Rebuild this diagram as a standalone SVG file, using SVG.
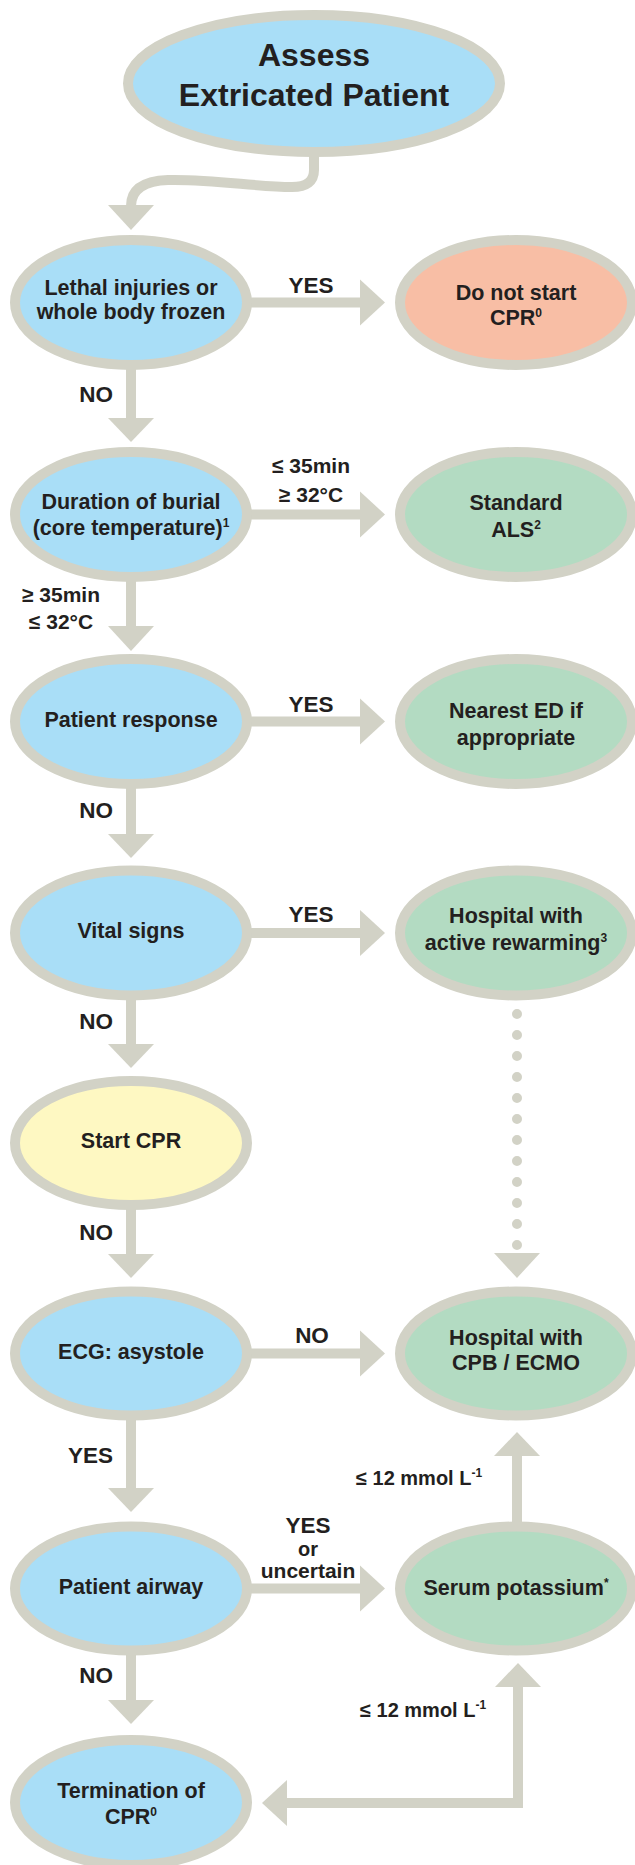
<svg xmlns="http://www.w3.org/2000/svg" width="635" height="1865" viewBox="0 0 635 1865">
<style>
.n{stroke:#D2D2C6;stroke-width:10}
.blue{fill:#A9DEF7}.red{fill:#F8BEA5}.green{fill:#B3DBC2}.yellow{fill:#FEF8C2}
text{font-family:'Liberation Sans',Arial,Helvetica,sans-serif;font-weight:bold;fill:#231F20;text-anchor:middle}
.t{font-size:21.5px}
.big{font-size:32px}
.l{font-size:22.5px}
.le{font-size:22.5px;text-anchor:end}
.s{font-size:21px}
.o{font-size:20px}
.ss{font-size:20px;text-anchor:start}
.sup{font-size:12px}
.sh{stroke:#D2D2C6;stroke-width:10;fill:none}
.hd{fill:#D2D2C6}
.dot{stroke:#D2D2C6;stroke-width:10;fill:none;stroke-linecap:round;stroke-dasharray:0 21}
</style>
<g id="connectors">
<path class="sh" d="M314,155 V170 Q314,187 292,187 C255,187 215,179 168,180 C143,181 131,190 131,206"/>
<polygon class="hd" points="108,205 154,205 131,230"/>
<path class="sh" d="M131,368 V419"/><polygon class="hd" points="108,418 154,418 131,442"/>
<path class="sh" d="M131,580 V627"/><polygon class="hd" points="108,626 154,626 131,651"/>
<path class="sh" d="M131,787 V835"/><polygon class="hd" points="108,834 154,834 131,858"/>
<path class="sh" d="M131,998 V1045"/><polygon class="hd" points="108,1044 154,1044 131,1068"/>
<path class="sh" d="M131,1208 V1255"/><polygon class="hd" points="108,1254 154,1254 131,1278"/>
<path class="sh" d="M131,1418 V1489"/><polygon class="hd" points="108,1488 154,1488 131,1512"/>
<path class="sh" d="M131,1653 V1701"/><polygon class="hd" points="108,1700 154,1700 131,1724"/>
<path class="sh" d="M250,302.5 H361"/><polygon class="hd" points="360,279.5 385,302.5 360,325.5"/>
<path class="sh" d="M250,514.5 H361"/><polygon class="hd" points="360,491.5 385,514.5 360,537.5"/>
<path class="sh" d="M250,721.5 H361"/><polygon class="hd" points="360,698.5 385,721.5 360,744.5"/>
<path class="sh" d="M250,933 H361"/><polygon class="hd" points="360,910 385,933 360,956"/>
<path class="sh" d="M250,1353.5 H361"/><polygon class="hd" points="360,1330.5 385,1353.5 360,1376.5"/>
<path class="sh" d="M250,1588.5 H361"/><polygon class="hd" points="360,1565.5 385,1588.5 360,1611.5"/>
<path class="dot" d="M517,1014 V1246"/><polygon class="hd" points="494,1253 540,1253 517,1278"/>
<path class="sh" d="M517,1524 V1455"/><polygon class="hd" points="494,1456 540,1456 517,1432"/>
<path class="sh" d="M518,1686 V1803 H286" stroke-linejoin="miter"/><polygon class="hd" points="495,1687 541,1687 518,1663"/><polygon class="hd" points="287,1780 287,1826 262,1803"/>
</g>
<g id="assess"><ellipse class="n blue" cx="314" cy="83.5" rx="186" ry="68.5"/><text class="big" x="314" y="66">Assess</text><text class="big" x="314" y="106">Extricated Patient</text></g>
<g id="lethal"><ellipse class="n blue" cx="131" cy="302.5" rx="116" ry="62.5"/><text class="t" x="131" y="295">Lethal injuries or</text><text class="t" x="131" y="319">whole body frozen</text></g>
<g id="donotstart"><ellipse class="n red" cx="516" cy="302.5" rx="116" ry="62.5"/><text class="t" x="516" y="300">Do not start</text><text class="t" x="516" y="325">CPR<tspan class="sup" dy="-8">0</tspan></text></g>
<g id="duration"><ellipse class="n blue" cx="131" cy="514.5" rx="116" ry="62.5"/><text class="t" x="131" y="509">Duration of burial</text><text class="t" x="131" y="535">(core temperature)<tspan class="sup" dy="-8">1</tspan></text></g>
<g id="standard"><ellipse class="n green" cx="516" cy="514.5" rx="116" ry="62.5"/><text class="t" x="516" y="510">Standard</text><text class="t" x="516" y="537">ALS<tspan class="sup" dy="-8">2</tspan></text></g>
<g id="response"><ellipse class="n blue" cx="131" cy="721.5" rx="116" ry="62.5"/><text class="t" x="131" y="727">Patient response</text></g>
<g id="nearest"><ellipse class="n green" cx="516" cy="721.5" rx="116" ry="62.5"/><text class="t" x="516" y="718">Nearest ED if</text><text class="t" x="516" y="745">appropriate</text></g>
<g id="vital"><ellipse class="n blue" cx="131" cy="933" rx="116" ry="62.5"/><text class="t" x="131" y="938">Vital signs</text></g>
<g id="rewarming"><ellipse class="n green" cx="516" cy="933" rx="116" ry="62.5"/><text class="t" x="516" y="923">Hospital with</text><text class="t" x="516" y="950">active rewarming<tspan class="sup" dy="-8">3</tspan></text></g>
<g id="startcpr"><ellipse class="n yellow" cx="131" cy="1143" rx="116" ry="62"/><text class="t" x="131" y="1148">Start CPR</text></g>
<g id="ecg"><ellipse class="n blue" cx="131" cy="1353.5" rx="116" ry="62"/><text class="t" x="131" y="1359">ECG: asystole</text></g>
<g id="ecmo"><ellipse class="n green" cx="516" cy="1353.5" rx="116" ry="62"/><text class="t" x="516" y="1345">Hospital with</text><text class="t" x="516" y="1370">CPB / ECMO</text></g>
<g id="airway"><ellipse class="n blue" cx="131" cy="1588.5" rx="116" ry="62"/><text class="t" x="131" y="1594">Patient airway</text></g>
<g id="potassium"><ellipse class="n green" cx="516" cy="1588.5" rx="116" ry="62"/><text class="t" x="516" y="1595">Serum potassium<tspan class="sup" dy="-8">*</tspan></text></g>
<g id="termination"><ellipse class="n blue" cx="131" cy="1802.5" rx="116" ry="62.5"/><text class="t" x="131" y="1798">Termination of</text><text class="t" x="131" y="1824">CPR<tspan class="sup" dy="-8">0</tspan></text></g>
<g id="labels">
<text class="l" x="311" y="293">YES</text>
<text class="le" x="113" y="402">NO</text>
<text class="s" x="311" y="473">≤ 35min</text>
<text class="s" x="311" y="502">≥ 32°C</text>
<text class="s" x="61" y="602">≥ 35min</text>
<text class="s" x="61" y="629">≤ 32°C</text>
<text class="l" x="311" y="712">YES</text>
<text class="le" x="113" y="818">NO</text>
<text class="l" x="311" y="922">YES</text>
<text class="le" x="113" y="1029">NO</text>
<text class="le" x="113" y="1240">NO</text>
<text class="l" x="312" y="1343">NO</text>
<text class="le" x="113" y="1463">YES</text>
<text class="l" x="308" y="1533">YES</text>
<text class="o" x="308" y="1556">or</text>
<text class="s" x="308" y="1578">uncertain</text>
<text class="le" x="113" y="1683">NO</text>
<text class="ss" x="356" y="1485">≤ 12 mmol L<tspan class="sup" dy="-8">-1</tspan></text>
<text class="ss" x="360" y="1717">≤ 12 mmol L<tspan class="sup" dy="-8">-1</tspan></text>
</g>
</svg>
